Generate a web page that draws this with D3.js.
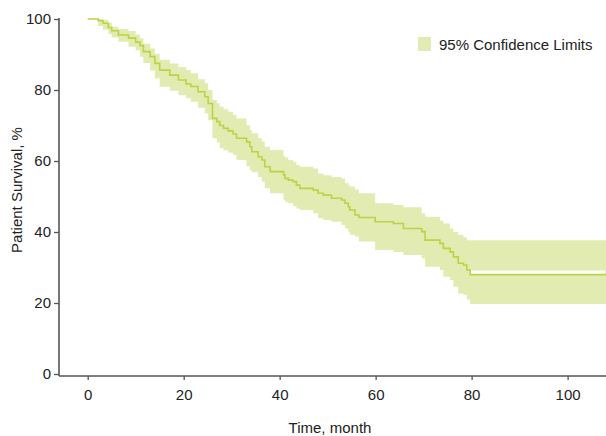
<!DOCTYPE html>
<html lang="en">
<head>
<meta charset="UTF-8">
<title>Patient Survival</title>
<script src="https://d3js.org/d3.v7.min.js"></script>
<style>
  body { margin: 0; background: #fff; }
  svg { display: block; font-family: "Liberation Sans", Arial, sans-serif; }
  .tick text { font-size: 15px; fill: #222; }
  .tick line { stroke: #555; stroke-width: 1.3; }
</style>
</head>
<body>
<script>
// Kaplan-Meier step times (months) and values (%)
const times = [0, 2.2, 3.2, 4.3, 5.0, 6.4, 8.5, 10.0, 10.9, 11.6, 13.0, 14.0, 15.0, 17.1, 18.9,
  20.5, 21.5, 23.0, 24.4, 25.1, 26.0, 26.9, 27.5, 28.3, 29.3, 30.3, 31.0, 33.1, 33.8, 34.2,
  35.5, 36.3, 36.9, 38.0, 40.8, 41.1, 41.8, 42.8, 43.5, 44.2, 47.0, 48.0, 49.1, 50.8, 52.9,
  53.6, 54.3, 54.6, 55.7, 56.5, 59.9, 63.7, 65.8, 69.6, 70.3, 73.4, 74.1, 75.5, 76.2, 77.2,
  78.3, 79.0, 79.7, 108];
const survival = [100, 99.5, 98.8, 97.6, 96.7, 95.5, 94.6, 93.5, 92.5, 90.8, 89.4, 87.5, 85.6, 84.2, 82.8,
  81.7, 81.0, 79.5, 78.1, 76.2, 72.0, 71.1, 70.0, 69.2, 68.5, 67.6, 66.4, 65.4, 64.0, 62.6,
  61.2, 60.3, 58.4, 57.0, 56.1, 55.1, 54.6, 54.2, 53.2, 52.3, 51.8, 50.9, 50.4, 49.5, 49.0,
  48.1, 47.1, 46.2, 44.8, 44.1, 42.9, 42.4, 41.0, 40.1, 37.7, 36.8, 35.4, 34.4, 33.0, 31.2,
  30.7, 29.3, 28.0, 28.0];
const upper = [100, 100, 99.8, 99.0, 97.8, 97.2, 96.6, 95.6, 94.6, 93.0, 91.7, 90.2, 88.5, 87.5, 86.5,
  85.6, 84.7, 83.0, 81.9, 80.0, 77.2, 76.3, 75.3, 74.6, 73.9, 73.0, 72.0, 70.1, 68.7, 67.8,
  66.4, 65.5, 64.0, 63.1, 61.5, 61.0, 60.3, 59.8, 58.9, 58.4, 57.9, 56.5, 56.0, 55.5, 55.1,
  53.7, 53.2, 52.8, 52.0, 50.9, 48.1, 47.6, 47.0, 45.3, 44.3, 43.2, 42.4, 41.0, 40.0, 39.2,
  38.5, 37.7, 37.7, 37.7];
const lower = [100, 98.0, 97.0, 95.8, 94.8, 93.6, 92.2, 91.2, 89.4, 87.6, 85.5, 83.3, 80.9, 79.8, 78.5,
  77.7, 76.7, 75.0, 73.4, 71.5, 66.4, 65.2, 63.6, 63.0, 62.3, 61.7, 60.3, 58.5, 57.5, 56.8,
  55.5, 54.2, 52.3, 50.9, 49.0, 48.5, 48.1, 47.3, 46.6, 46.2, 45.3, 43.9, 43.4, 42.9, 42.0,
  41.0, 40.1, 39.2, 38.7, 37.3, 34.9, 34.4, 33.5, 32.6, 30.2, 29.3, 27.4, 26.5, 24.6, 22.7,
  22.3, 21.0, 19.7, 19.7];

const xTicks = [0, 20, 40, 60, 80, 100];
const yTicks = [0, 20, 40, 60, 80, 100];
const legendLabel = "95% Confidence Limits";

const width = 606, height = 436;
const bandColor = "#e2ebb1";
const lineColor = "#bad444";
const axisColor = "#555";

const rows = times.map((t, i) => ({ t, s: survival[i], u: upper[i], l: lower[i] }));

const x = d3.scaleLinear().domain([0, 108]).range([87.7, 606]);
const y = d3.scaleLinear().domain([0, 100]).range([374, 19]);
const axisY = 376, axisX = 59;

const svg = d3.select("body").append("svg")
  .attr("width", width)
  .attr("height", height);

// confidence band
svg.append("path")
  .datum(rows)
  .attr("fill", bandColor)
  .attr("d", d3.area().curve(d3.curveStepAfter)
    .x(d => x(d.t)).y0(d => y(d.l)).y1(d => y(d.u)));

// white gap above the final flat segment
const last = rows.slice(-2);
svg.append("path")
  .datum(last)
  .attr("fill", "none")
  .attr("stroke", "#fff")
  .attr("stroke-width", 3.4)
  .attr("transform", "translate(-1,-2.4)")
  .attr("d", d3.line().x(d => x(d.t)).y(d => y(d.s)));

// survival curve
svg.append("path")
  .datum(rows)
  .attr("fill", "none")
  .attr("stroke", lineColor)
  .attr("stroke-width", 1.6)
  .attr("d", d3.line().curve(d3.curveStepAfter).x(d => x(d.t)).y(d => y(d.s)));

// axes
const gx = svg.append("g")
  .attr("transform", `translate(0,${axisY})`)
  .call(d3.axisBottom(x).tickValues(xTicks).tickSize(4).tickPadding(9).tickSizeOuter(0));
gx.select(".domain").remove();

const gy = svg.append("g")
  .attr("transform", `translate(${axisX},0)`)
  .call(d3.axisLeft(y).tickValues(yTicks).tickSize(5).tickPadding(3).tickSizeOuter(0));
gy.select(".domain").remove();

svg.append("line")
  .attr("x1", axisX).attr("x2", width)
  .attr("y1", axisY).attr("y2", axisY)
  .attr("stroke", axisColor).attr("stroke-width", 1.6);
svg.append("line")
  .attr("x1", axisX).attr("x2", axisX)
  .attr("y1", y(100) - 1).attr("y2", axisY)
  .attr("stroke", axisColor).attr("stroke-width", 1.6);

// axis titles
svg.append("text")
  .attr("x", 330).attr("y", 433)
  .attr("text-anchor", "middle")
  .attr("font-size", 15).attr("fill", "#222")
  .text("Time, month");

svg.append("text")
  .attr("transform", "translate(22,190) rotate(-90)")
  .attr("text-anchor", "middle")
  .attr("font-size", 15).attr("fill", "#222")
  .text("Patient Survival, %");

// legend
svg.append("rect")
  .attr("x", 418).attr("y", 37).attr("width", 13).attr("height", 14)
  .attr("fill", bandColor);
svg.append("text")
  .attr("x", 439).attr("y", 49.5)
  .attr("font-size", 15).attr("fill", "#222")
  .text(legendLabel);
</script>
</body>
</html>
